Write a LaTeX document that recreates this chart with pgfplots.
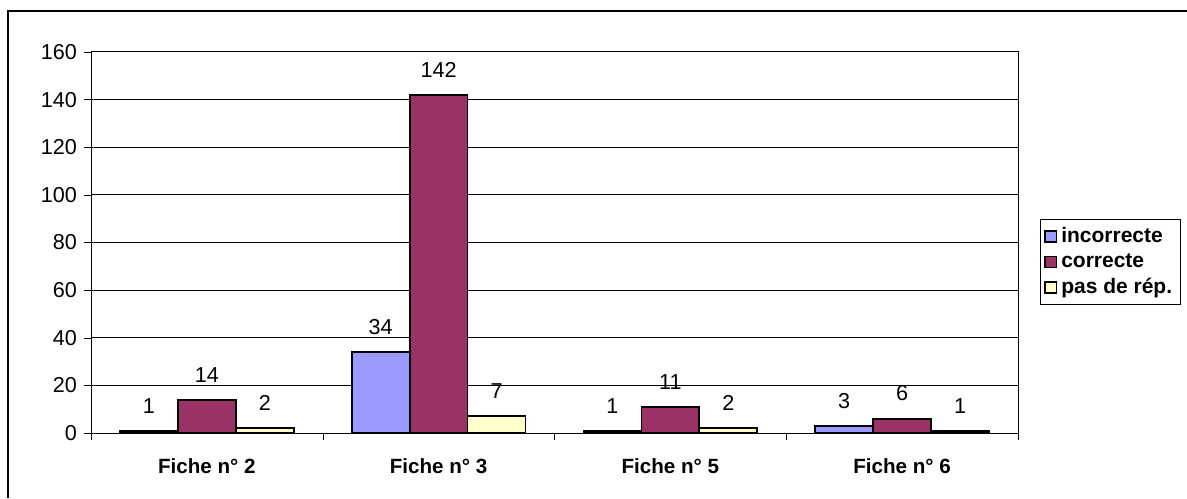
\documentclass[border=0pt]{standalone}
\usepackage{fontspec}
\setmainfont{Liberation Sans}
\usepackage{pgfplots}
\pgfplotsset{compat=1.18}

\definecolor{incor}{HTML}{9999FF}
\definecolor{corr}{HTML}{993366}
\definecolor{pasrep}{HTML}{FFFFCC}

\pgfplotstableread{
x incorrecte correcte pasderep
0 1  14  2
1 34 142 7
2 1  11  2
3 3  6   1
}\fiches

\begin{document}
\begin{tikzpicture}
% page frame: 1187x498 px at 0.5pt per px
\path[use as bounding box] (0,0) rectangle (593.5pt,249pt);
\draw[line width=0.6pt] (4pt,0) -- (4pt,243.5pt) -- (593.5pt,243.5pt);
\begin{axis}[
    at={(45.5pt,32.5pt)}, anchor=south west,
    scale only axis,
    width=463.5pt, height=190.5pt,
    ybar=0pt, bar width=0.25,
    xmin=-0.5, xmax=3.5,
    ymin=0, ymax=160,
    ytick={0,20,...,160},
    xtick={0,1,2,3},
    xticklabels={Fiche n° 2,Fiche n° 3,Fiche n° 5,Fiche n° 6},
    x tick label style={font=\bfseries\fontsize{10.3}{12}\selectfont, yshift=-6pt},
    y tick label style={font=\fontsize{10.8}{12}\selectfont},
    /pgf/number format/assume math mode=true,
    x tick style={draw=none},
    extra x ticks={-0.5,0.5,1.5,2.5,3.5},
    extra x tick labels={},
    extra x tick style={x tick style={draw=black}, major tick length=3.5pt, tick align=outside, grid=none},
    y tick style={black},
    major tick length=3.5pt, tick align=outside,
    tick pos=left,
    ymajorgrids=true,
    grid style={black, line width=0.5pt},
    axis line style={black, line width=0.5pt},
    nodes near coords,
    nodes near coords style={font=\fontsize{10.8}{12}\selectfont, anchor=south, yshift=5pt},
    legend style={at={(1.0237,0.562)}, anchor=north west, draw=black, line width=0.5pt,
        font=\bfseries\fontsize{10.5}{11}\selectfont, row sep=0pt, inner xsep=2pt, inner ysep=2pt},
    legend cell align=left,
    legend image code/.code={\draw[#1, line width=0.8pt] (0pt,-2.8pt) rectangle (5.6pt,2.8pt);},
]
\addplot[fill=incor, draw=black, line width=0.9pt] table[x=x, y=incorrecte] {\fiches};
\addplot[fill=corr, draw=black, line width=0.9pt] table[x=x, y=correcte] {\fiches};
\addplot[fill=pasrep, draw=black, line width=0.9pt] table[x=x, y=pasderep] {\fiches};
\legend{incorrecte, correcte, pas de rép.}
\end{axis}
\end{tikzpicture}
\end{document}
